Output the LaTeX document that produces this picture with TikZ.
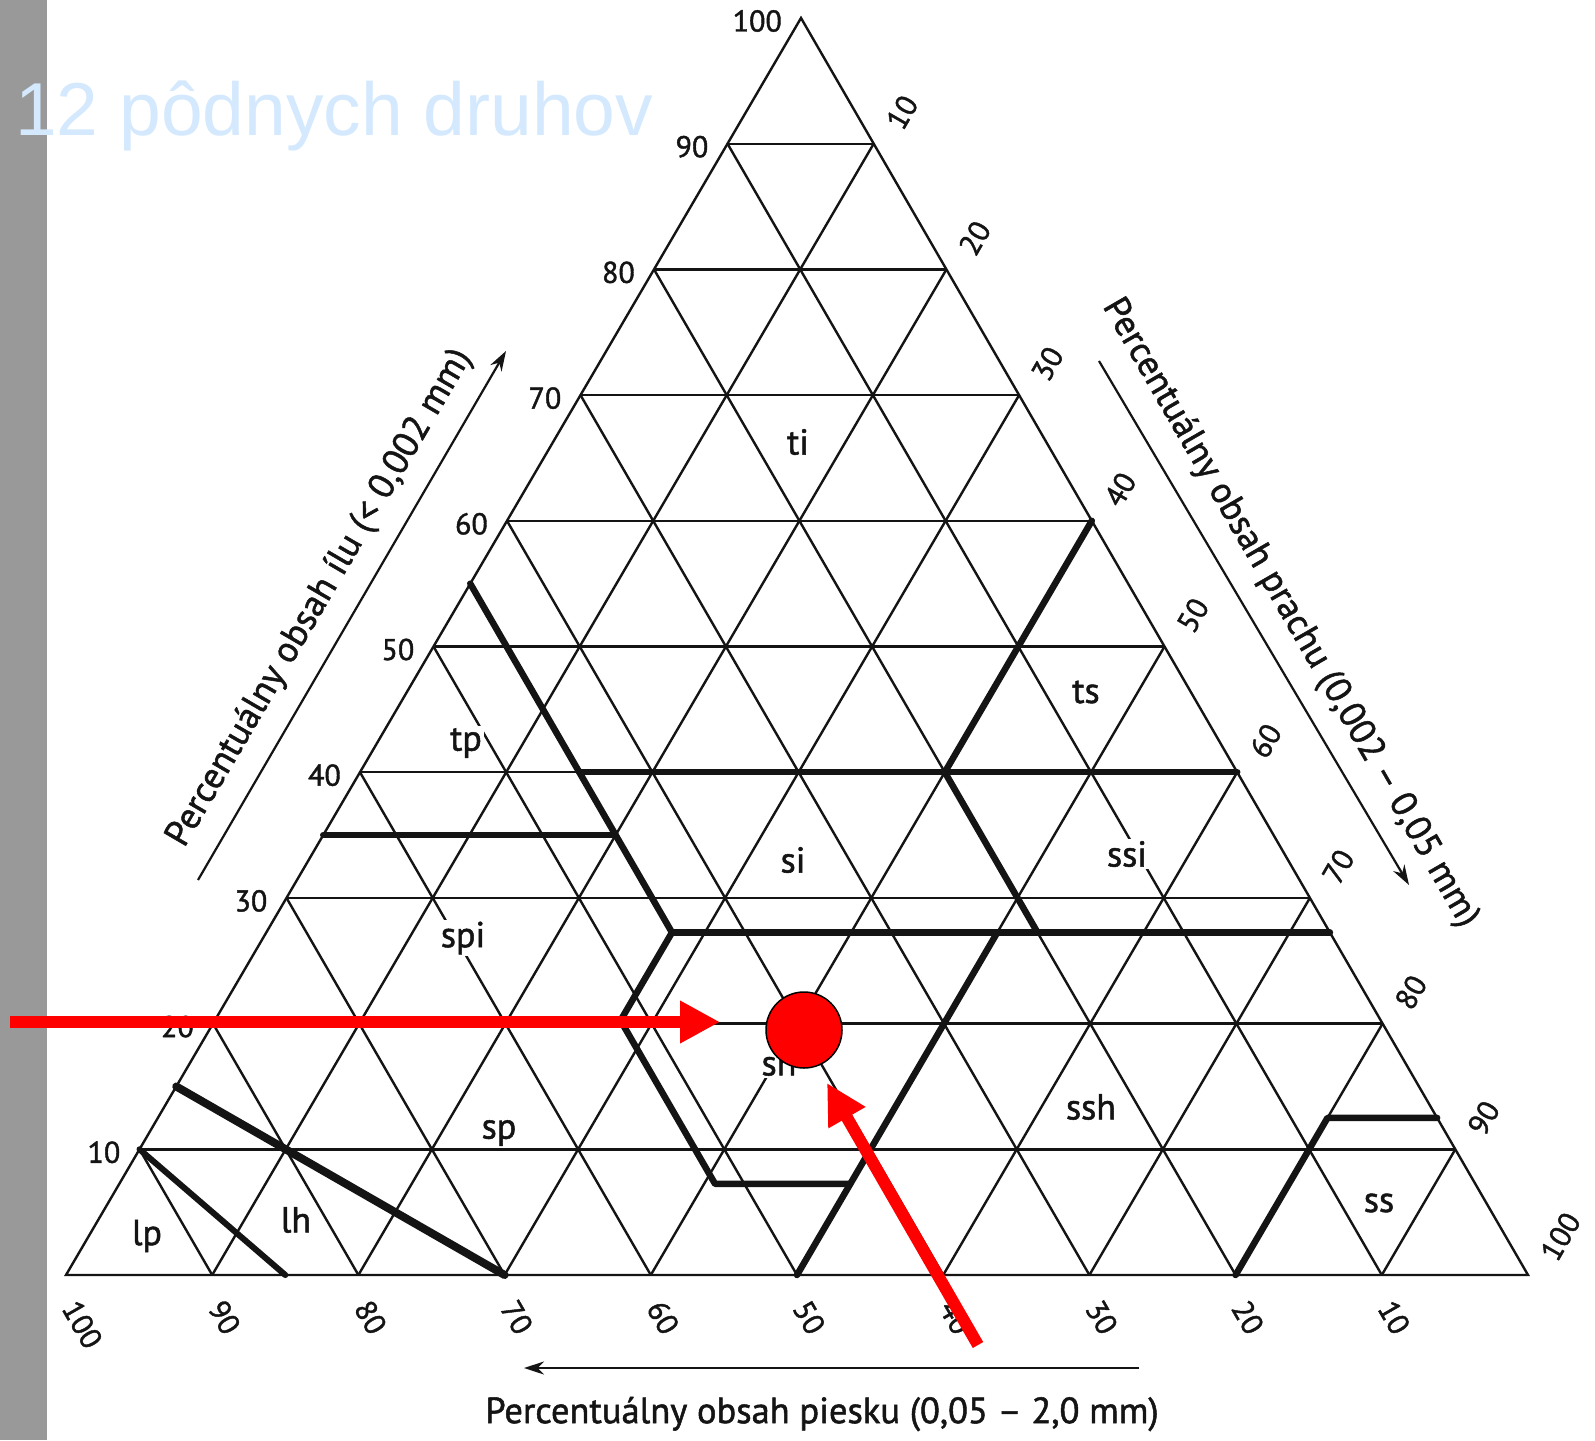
\documentclass[tikz,border=0pt]{standalone}
\usepackage{fontspec}
\setmainfont{PT Sans}[FakeBold=1.4]
\newfontfamily\titlefont{Liberation Sans}
\usetikzlibrary{arrows.meta,calc}
\definecolor{barGray}{RGB}{153,153,153}
\definecolor{titleBlue}{RGB}{212,233,253}
\definecolor{inkBlack}{RGB}{20,20,20}
\begin{document}
\begin{tikzpicture}[x=1pt,y=-1pt,
  declare function={tx(\c,\s)=66+14.62*\s+7.35*\c; ty(\c)=1275-12.57*\c;},
  gridline/.style={draw=inkBlack,line width=2.4pt},
  bound/.style={draw=inkBlack,line width=6.5pt,line join=round,line cap=round},
  tick/.style={inner sep=0pt,text=inkBlack,font=\fontsize{30}{36}\selectfont},
  cell/.style={fill=white,inner sep=2pt,text=inkBlack,font=\fontsize{36}{42}\selectfont},
  axistitle/.style={inner sep=0pt,text=inkBlack,font=\fontsize{36.5}{42}\selectfont},
  axisarrow/.style={draw=inkBlack,line width=2.2pt,-{Stealth[length=20pt,width=13pt]}},
  redarrow/.style={draw=red,line width=12pt,-{Triangle[length=40pt,width=40pt]}}
]
\path[use as bounding box,fill=white] (0,0) rectangle (1595,1440);
\fill[barGray] (0,0) rectangle (47,1440);

% grid
\foreach \k in {10,20,...,90}{
  \draw[gridline] ({tx(\k,0)},{ty(\k)}) -- ({tx(\k,100-\k)},{ty(\k)});
  \draw[gridline] ({tx(0,\k)},{ty(0)}) -- ({tx(100-\k,\k)},{ty(100-\k)});
  \draw[gridline] ({tx(0,100-\k)},{ty(0)}) -- ({tx(100-\k,0)},{ty(100-\k)});
}
\coordinate (BL) at ({tx(0,0)},{ty(0)});
\coordinate (BR) at ({tx(0,100)},{ty(0)});
\coordinate (AP) at ({tx(100,0)},{ty(100)});
\draw[gridline,line join=miter] (BL) -- (BR) -- (AP) -- cycle;

% boundary lines
\coordinate (a1) at ({tx(15,0)},{ty(15)});
\coordinate (a2) at ({tx(0,30)},{ty(0)});
\coordinate (b1) at ({tx(10,0)},{ty(10)});
\coordinate (b2) at ({tx(0,15)},{ty(0)});
\coordinate (c1) at ({tx(55,0)},{ty(55)});
\coordinate (c2) at ({tx(40,15)},{ty(40)});
\coordinate (c3) at ({tx(35,20)},{ty(35)});
\coordinate (c4) at ({tx(27.25,27.75)},{ty(27.25)});
\coordinate (c5) at ({tx(20.25,27.75)},{ty(20.25)});
\coordinate (c6) at ({tx(7.25,40.75)},{ty(7.25)});
\coordinate (c7) at ({tx(7.25,50)},{ty(7.25)});
\coordinate (d1) at ({tx(27.25,72.75)},{ty(27.25)});
\coordinate (e1) at ({tx(40,60)},{ty(40)});
\coordinate (f1) at ({tx(35,0)},{ty(35)});
\coordinate (g1) at ({tx(60,40)},{ty(60)});
\coordinate (g2) at ({tx(40,40)},{ty(40)});
\coordinate (g3) at ({tx(27.25,52.75)},{ty(27.25)});
\coordinate (h1) at ({tx(0,50)},{ty(0)});
\coordinate (h2) at ({tx(27.25,50)},{ty(27.25)});
\coordinate (i1) at ({tx(0,80)},{ty(0)});
\coordinate (i2) at ({tx(12.5,80)},{ty(12.5)});
\coordinate (i3) at ({tx(12.5,87.5)},{ty(12.5)});

\draw[bound,line width=8pt] (a1) -- (a2);
\draw[bound,line width=6pt] (b1) -- (b2);
\draw[bound] (c1) -- (c2) -- (c3) -- (c4) -- (c5) -- (c6) -- (c7);
\draw[bound] (c4) -- (d1);
\draw[bound] (c2) -- (e1);
\draw[bound] (f1) -- (c3);
\draw[bound] (g1) -- (g2) -- (g3);
\draw[bound] (h1) -- (h2);
\draw[bound] (i1) -- (i2) -- (i3);

% cell labels
\node[cell] (ti) at (798,442) {ti};
\node[cell] (ts) at (1086,692) {ts};
\node[cell] (tp) at (466,743) {tp};
\node[cell] (si) at (793,860) {si};
\node[cell] (ssi) at (1127,854) {ssi};
\node[cell] (spi) at (463,938) {spi};
\node[cell] (sh) at (779,1063) {sh};
\node[cell] (ssh) at (1091,1107) {ssh};
\node[cell] (sp) at (499,1133) {sp};
\node[cell] (lp) at (147,1236) {lp};
\node[cell] (lh) at (296,1220) {lh};
\node[cell] (ss) at (1379,1203) {ss};

% tick labels
\foreach \k in {10,20,...,100}{
  \node[tick,anchor=east] (lc\k) at ({tx(\k,0)-19},{ty(\k)+3}) {\k};
  \node[tick,anchor=west,rotate=60] (rs\k) at ({tx(100-\k,\k)+20},{ty(100-\k)-17}) {\k};
  \node[tick,anchor=west,rotate=-60] (bs\k) at ({tx(0,100-\k)+4},{ty(0)+28}) {\k};
}

% axis titles and arrows
\node[axistitle,rotate=59.7] (tclay) at (320,598) {Percentuálny obsah ílu (< 0,002 mm)};
\node[axistitle,rotate=-60] (tsilt) at (1290,613) {Percentuálny obsah prachu (0,002 – 0,05 mm)};
\node[axistitle] (tsand) at (822,1414) {Percentuálny obsah piesku (0,05 – 2,0 mm)};
\coordinate (la1) at (198,880);
\coordinate (la2) at (506,351);
\coordinate (ra1) at (1099,361);
\coordinate (ra2) at (1409,885);
\coordinate (ba1) at (1139,1368);
\coordinate (ba2) at (524,1368);
\draw[axisarrow] (la1) -- (la2);
\draw[axisarrow] (ra1) -- (ra2);
\draw[axisarrow] (ba1) -- (ba2);

% title
\node[anchor=base west,inner sep=0pt,text=titleBlue,font=\titlefont\fontsize{75}{90}\selectfont] (title) at (15,135) {12 pôdnych druhov};

% red markers
\coordinate (rh1) at (10,1022);
\coordinate (rh2) at (720,1022);
\coordinate (rd1) at (978,1345);
\coordinate (rd2) at (827,1083);
\draw[redarrow] (rh1) -- (rh2);
\draw[redarrow] (rd1) -- (rd2);
\node[circle,fill=red,draw=black,line width=1.5pt,minimum size=76pt,inner sep=0pt] (pt) at (804,1030) {};
\end{tikzpicture}
\end{document}
